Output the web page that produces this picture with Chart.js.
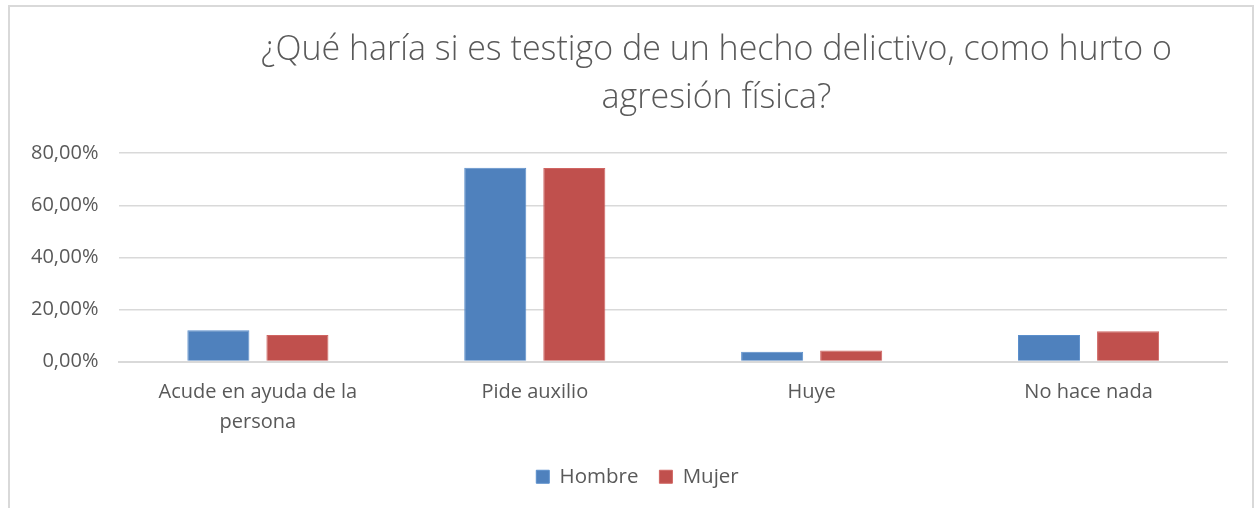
<!DOCTYPE html>
<html>
<head>
<meta charset="utf-8">
<script src="https://cdn.jsdelivr.net/npm/chart.js@4.4.1/dist/chart.umd.min.js"></script>
<style>
  html, body { margin: 0; padding: 0; background: #fff; overflow: hidden; }
  .frame {
    position: absolute; left: 8px; top: 5px;
    width: 1246px; height: 520px;
    border: 2px solid #d9d9d9; box-sizing: border-box;
  }
  .frame canvas { position: absolute; left: 0; top: 0; }
</style>
</head>
<body>
<div class="frame">
  <canvas id="chart" width="1242" height="501"></canvas>
</div>
<script>
// datos
const categorias = [['Acude en ayuda de la', 'persona'], 'Pide auxilio', 'Huye', 'No hace nada'];
const hombre = [12.0, 74.4, 3.7, 10.2];
const mujer = [10.2, 74.3, 4.2, 11.6];
const ticksY = [0, 20, 40, 60, 80];
const titulo = ['¿Qué haría si es testigo de un hecho delictivo, como hurto o', 'agresión física?'];

const gris = '#595959';
const FONT = "'Open Sans', sans-serif";

// en el original el título y la leyenda no quedan centrados en el gráfico
const desplazar = {
  id: 'desplazar',
  afterLayout(chart) {
    if (chart.titleBlock) chart.titleBlock.left += 196;
    if (chart.legend) chart.legend.left += 38;
  }
};

new Chart(document.getElementById('chart'), {
  type: 'bar',
  data: {
    labels: categorias,
    datasets: [
      { label: 'Hombre', data: hombre, backgroundColor: '#4f81bd', borderColor: '#5b8fcc', borderWidth: 1 },
      { label: 'Mujer', data: mujer, backgroundColor: '#c0504d', borderColor: '#d06562', borderWidth: 1 },
    ],
  },
  options: {
    responsive: false,
    animation: false,
    categoryPercentage: 0.571,
    barPercentage: 0.785,
    layout: { padding: { left: 0, right: 25, top: 20, bottom: 11 } },
    scales: {
      x: {
        grid: { display: false },
        border: { color: '#d9d9d9', width: 2 },
        ticks: { color: gris, font: { family: FONT, size: 20, lineHeight: 1.5 }, maxRotation: 0, padding: 8 },
      },
      y: {
        min: 0,
        max: 80,
        afterBuildTicks: (axis) => { axis.ticks = ticksY.map(v => ({ value: v })); },
        grid: { color: '#d9d9d9', lineWidth: 1.5, drawTicks: false },
        border: { display: false },
        ticks: {
          color: gris,
          font: { family: FONT, size: 20 },
          padding: 21,
          callback: (v) => v.toFixed(2).replace('.', ',') + '%',
        },
      },
    },
    plugins: {
      title: {
        display: true,
        text: titulo,
        color: gris,
        font: { family: FONT, size: 34, weight: '300', lineHeight: 1.4 },
        padding: { top: 0, bottom: 31 },
      },
      legend: {
        position: 'bottom',
        labels: {
          color: gris,
          font: { family: FONT, size: 20.5 },
          boxWidth: 13,
          boxHeight: 13,
          padding: 21,
        },
      },
      tooltip: { enabled: false },
    },
  },
  plugins: [desplazar],
});
</script>
</body>
</html>
